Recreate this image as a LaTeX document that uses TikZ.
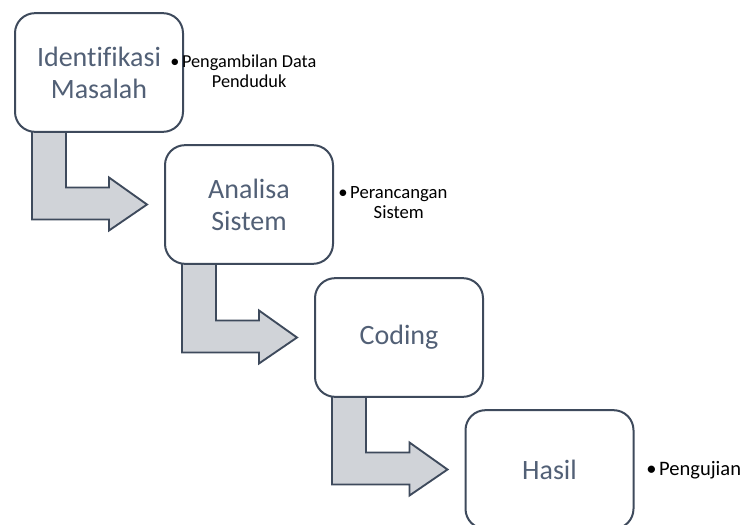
\documentclass[tikz,border=0pt]{standalone}
\usepackage{fontspec}
\setmainfont{Carlito}[Ligatures=NoCommon]
\usetikzlibrary{calc,backgrounds}
\definecolor{boxline}{RGB}{62,74,92}
\definecolor{boxtext}{RGB}{82,96,118}
\definecolor{arrowfill}{RGB}{208,211,216}
\tikzset{
  stagebox/.style={draw=boxline, line width=1.5pt, fill=white, rounded corners=15pt,
    minimum width=126pt, minimum height=89pt, inner sep=0pt, align=center,
    text=boxtext, font=\fontsize{21}{24}\selectfont},
  flowarrow/.style={draw=boxline, line width=1.4pt, fill=arrowfill, line join=miter},
  note/.style={anchor=base west, inner sep=0pt, font=\fontsize{13.7}{15}\selectfont}
}
\begin{document}
\begin{tikzpicture}[x=0.75pt,y=-0.75pt]
\useasboundingbox (0,0) rectangle (745,524);
%stages
\node[stagebox] (b1) at (99,72.5){Identifikasi\\Masalah};
\node[stagebox] (b2) at (249,204.5){Analisa\\Sistem};
\node[stagebox] (b3) at (399,337.5){Coding};
\node[stagebox] (b4) at (549.5,469.5){Hasil};
%arrows
\begin{pgfonlayer}{background}
\foreach \a/\b in {b1/b2,b2/b3,b3/b4}{
    \path[flowarrow] ($(\a.south west)+(18,-2)$) |- ($(\b.west)+(-55,15)$) -- ++(0,11)
        -- ($(\b.west)+(-17,0)$) -- ($(\b.west)+(-55,-27)$) -- ++(0,10)
        -| ($(\a.south west)+(52,-2)$) -- cycle;
}
\end{pgfonlayer}
%notes
\node[note] (n1) at (170,68){\textbullet\hspace{2pt}\begin{tabular}[t]{@{}c@{}}Pengambilan Data\\Penduduk\end{tabular}};
\node[note, font=\fontsize{14}{15}\selectfont] (n2) at (338,198){\textbullet\hspace{2pt}\begin{tabular}[t]{@{}c@{}}Perancangan\\Sistem\end{tabular}};
\node[note, font=\fontsize{15.4}{16}\selectfont] (n3) at (646,475){\textbullet\hspace{2pt}Pengujian};
\end{tikzpicture}
\end{document}
